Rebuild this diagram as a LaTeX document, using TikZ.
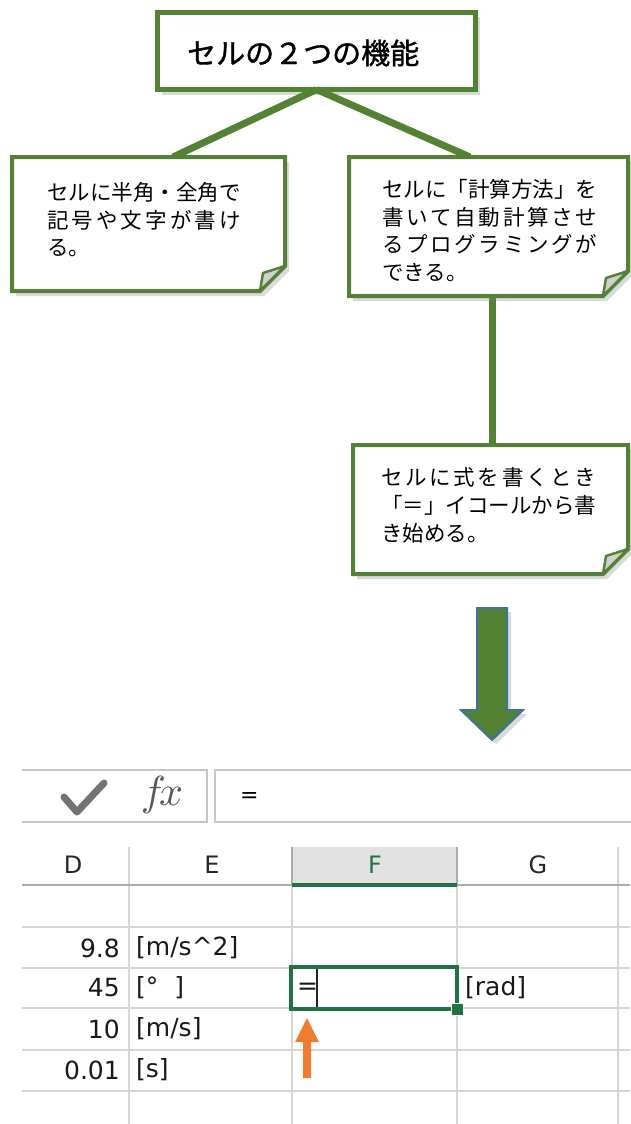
\documentclass[tikz,border=0pt]{standalone}
\usepackage{fontspec}
\newfontfamily\jp{Noto Sans CJK JP}
\newfontfamily\jpb[FakeBold=1.2]{Noto Sans CJK JP}
\newfontfamily\dv{DejaVu Sans}
\usetikzlibrary{shadows,calc}
\definecolor{boxgreen}{HTML}{548235}
\definecolor{arrowblue}{HTML}{41719C}
\definecolor{xlgreen}{HTML}{217346}
\definecolor{gridgray}{HTML}{D6D6D6}
\definecolor{hdrgray}{HTML}{E1E1E1}
\definecolor{hdrline}{HTML}{ABABAB}
\definecolor{foldgray}{HTML}{D0D0D0}
\definecolor{arroworange}{HTML}{ED7D31}
\definecolor{fbgray}{HTML}{C6C6C6}
\newcommand\sprEnd{}
\newcommand\sprB[1]{#1\sprA}
\newcommand\sprA[1]{\ifx#1\sprEnd\else\hfil#1\expandafter\sprA\fi}
\newcommand\jline[2]{\hbox to #1{\sprB#2\sprEnd}}
\tikzset{
  bodybox/.style={rectangle, inner sep=0pt, outer sep=0pt, draw=none},
  notebox/.style={draw=boxgreen, line width=4pt, fill=white,
    drop shadow={shadow xshift=4pt, shadow yshift=-5pt, opacity=0.3}},
  titlebox/.style={rectangle, inner sep=0pt, outer sep=0pt, draw=boxgreen, line width=5pt, fill=white,
    drop shadow={shadow xshift=4pt, shadow yshift=-5pt, opacity=0.3}},
  foldst/.style={fill=foldgray, draw=boxgreen, line width=2.5pt, line join=round},
  conn/.style={draw=boxgreen, line width=7pt},
  notetext/.style={font=\jp\fontsize{21.5}{27.8}\selectfont, align=left, inner sep=0pt, anchor=north west},
  bigarrow/.style={fill=boxgreen, draw=arrowblue, line width=2pt,
    drop shadow={shadow xshift=4pt, shadow yshift=-4pt, opacity=0.3}},
  gridline/.style={draw=gridgray, line width=1.5pt},
  fbar/.style={draw=fbgray, line width=2pt},
  cellt/.style={font=\dv\fontsize{25}{28}\selectfont, inner sep=0pt, text=black!90},
  hdrt/.style={font=\dv\fontsize{24}{28}\selectfont, inner sep=0pt, text=black!85}
}
\newcommand\foldnote[1]{%
  \draw[notebox] (#1.north west) -- (#1.north east) -- ([yshift=25pt]#1.south east)
    -- ([xshift=-25pt]#1.south east) -- (#1.south west) -- cycle;
  \filldraw[foldst] ([xshift=-25pt]#1.south east) -- ([xshift=-22pt,yshift=18pt]#1.south east)
    -- ([yshift=25pt]#1.south east) -- cycle;}
\begin{document}
\begin{tikzpicture}[x=1pt,y=-1pt]
\useasboundingbox (0,0) rectangle (630,1124);
% bodies
\node[bodybox, minimum width=273pt, minimum height=134pt] (lbox) at (148.5,224) {};
\node[bodybox, minimum width=279pt, minimum height=139pt] (rbox) at (488.5,226.5) {};
\node[bodybox, minimum width=275pt, minimum height=129pt] (tbox) at (490.5,509.5) {};
% title
\node[titlebox, minimum width=318pt, minimum height=77pt] (title) at (316.5,51) {};
% connectors
\draw[conn] (title.south) -- ($(lbox.north west)+(161,0)$);
\draw[conn] (title.south) -- ($(rbox.north west)+(121,0)$);
\draw[conn] ($(rbox.south west)+(143,0)$) -- ($(tbox.north west)+(139,0)$);
\node[anchor=west, font=\jpb\fontsize{29}{30}\selectfont, inner sep=0pt] (ttext) at (187,53) {セルの２つの機能};
% notes
\foldnote{lbox}
\foldnote{rbox}
\foldnote{tbox}
\node[notetext] (ltext) at (47,182) {\jline{193.5pt}{セルに半角・全角で}\\\jline{193.5pt}{記号や文字が書け}\\る。};
\node[notetext] (rtext) at (382,179) {\jline{215pt}{セルに「計算方法」を}\\\jline{215pt}{書いて自動計算させ}\\\jline{215pt}{るプログラミングが}\\できる。};
\node[notetext] (ttxt) at (381,467.5) {\jline{215pt}{セルに式を書くとき}\\\jline{215pt}{「＝」イコールから書}\\き始める。};
% big arrow
\draw[bigarrow] (477,608) -- (507,608) -- (507,710) -- (523,710) -- (492,740) -- (461,710) -- (477,710) -- cycle;
% formula bar
\draw[fbar] (22,770) -- (207,770) -- (207,822) -- (22,822);
\draw[fbar] (632,770) -- (215,770) -- (215,822) -- (632,822);
\draw[line width=7pt, color=black!55, line cap=round, line join=round] (64,797) -- (77,812) -- (104,783);
\node[inner sep=0pt, scale=4.2, text=black!65] (fx) at (162,795) {$f\!x$};
\node[anchor=west, inner sep=0pt, font=\dv\fontsize{22}{24}\selectfont] (feq) at (240,797) {=};
% header
\fill[hdrgray] (292,847) rectangle (457,885);
\foreach \x in {129,292,457,618} \draw[gridline] (\x,847) -- (\x,1124);
\draw[draw=hdrline, line width=1.5pt] (292,847) -- (292,885) (457,847) -- (457,885);
\draw[draw=hdrline, line width=2pt] (22,885) -- (630,885);
\draw[draw=xlgreen, line width=3.5pt] (292,885) -- (457,885);
\node[hdrt] (hD) at (73,865) {D};
\node[hdrt] (hE) at (212,865) {E};
\node[hdrt, text=xlgreen] (hF) at (375,865) {F};
\node[hdrt] (hG) at (538,865) {G};
% rows
\foreach \y in {927,968,1008,1050,1091} \draw[gridline] (22,\y) -- (630,\y);
\node[cellt, anchor=east] (v1) at (120,948) {9.8};
\node[cellt, anchor=west] (u1) at (136,948) {[m/s\textasciicircum 2]};
\node[cellt, anchor=east] (v2) at (120,988) {45};
\node[cellt, anchor=west] (u2) at (136,988) {[°~~]};
\node[cellt, anchor=east] (v3) at (120,1029) {10};
\node[cellt, anchor=west] (u3) at (136,1029) {[m/s]};
\node[cellt, anchor=east] (v4) at (120,1070) {0.01};
\node[cellt, anchor=west] (u4) at (136,1070) {[s]};
\node[cellt, anchor=west] (u5) at (465,988) {[rad]};
% selected cell
\draw[draw=xlgreen, line width=3.5pt] (291,967) rectangle (457,1009);
\fill[xlgreen, draw=white, line width=1pt] (451,1003) rectangle (463,1015);
\node[cellt, anchor=west] (ceq) at (297,989) {=};
\draw[line width=1.5pt, black!85] (317,969) -- (317,1007);
% orange arrow
\fill[arroworange] (303,1078) -- (303,1042) -- (295,1042) -- (307,1018) -- (319,1042) -- (311,1042) -- (311,1078) -- cycle;
\end{tikzpicture}
\end{document}
